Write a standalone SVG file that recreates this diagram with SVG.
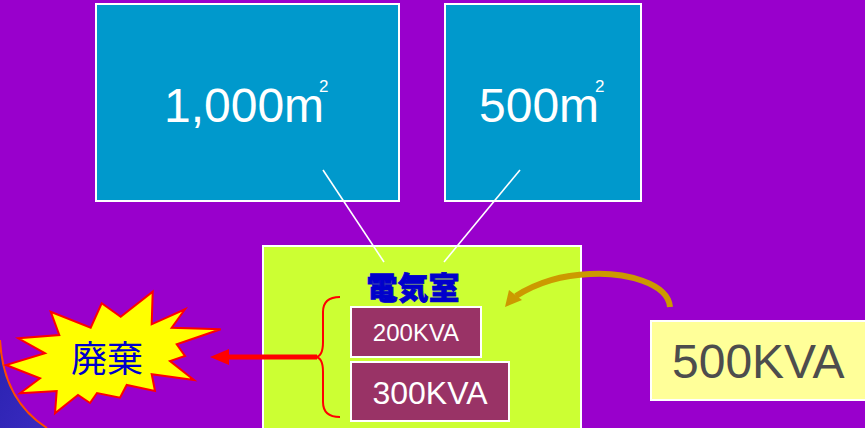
<svg xmlns="http://www.w3.org/2000/svg" width="865" height="428" viewBox="0 0 865 428">
<defs>
<style>
.area{fill:#0099CC;stroke:#FFFFFF;stroke-width:2}
.areatxt{font-family:"Liberation Sans",Arial,sans-serif;font-size:48px;fill:#FFFFFF}
.sup{font-size:17px}
.tr{fill:#993366;stroke:#FFFFFF;stroke-width:2}
.trtxt{font-family:"Liberation Sans",Arial,sans-serif;fill:#FFFFFF;text-anchor:middle}
.cjk{font-family:"Noto Sans CJK JP","Noto Sans CJK SC",sans-serif;text-anchor:middle}
.wire{stroke:#FFFFFF;stroke-width:1.6;fill:none}
</style>
<linearGradient id="corner" x1="0" y1="0" x2="1" y2="1">
<stop offset="0" stop-color="#2A22B0"/>
<stop offset="1" stop-color="#3A2AC0"/>
</linearGradient>
</defs>
<rect x="0" y="0" width="865" height="428" fill="#9900CC"/>
<path d="M0,340 Q3,400 47,428 L0,428 Z" fill="url(#corner)"/>
<path d="M0,340 Q3,400 47,428" fill="none" stroke="#FF4A00" stroke-width="2"/>

<g id="area1000">
<rect class="area" x="96" y="4" width="303" height="197"/>
<text class="areatxt" x="164" y="122">1,000m<tspan class="sup" dx="-5" dy="-30">2</tspan></text>
</g>
<g id="area500">
<rect class="area" x="445" y="4" width="196" height="197"/>
<text class="areatxt" x="479" y="122">500m<tspan class="sup" dx="-4" dy="-30">2</tspan></text>
</g>

<g id="denkishitsu">
<rect x="263" y="246" width="318" height="190" fill="#CCFF33" stroke="#FFFFFF" stroke-width="2"/>
<text class="cjk" x="413" y="299" font-size="31" font-weight="900" fill="#0000CC" stroke="#0000CC" stroke-width="0.8">電気室</text>
</g>
<g id="tr200">
<rect class="tr" x="351" y="307" width="130" height="50"/>
<text class="trtxt" x="416" y="341" font-size="24">200KVA</text>
</g>
<g id="tr300">
<rect class="tr" x="351" y="362" width="158" height="59"/>
<text class="trtxt" x="430" y="404" font-size="32">300KVA</text>
</g>

<g id="new500">
<rect x="651" y="321" width="220" height="79" fill="#FFFF99" stroke="#FFFFFF" stroke-width="2"/>
<text x="672" y="378" font-family="'Liberation Sans',Arial,sans-serif" font-size="48" fill="#4D4D4D">500KVA</text>
</g>

<g id="haiki">
<polygon points="152.7,291.7 151.7,324.3 185,309.3 171.7,327.7 220.7,329.3 176.7,344.3 185,356 170,361 194,380 151.7,374.3 155,391 126.7,385 120,397.7 97,393 90,403 78,395 55,413.3 56.7,391 20,393.3 40,378.3 6,365 45,353.3 18.3,338.3 59.3,335 50.7,311.7 90.7,327.7 101.7,303.3 120.7,316.7" fill="#FFFF00" stroke="#FF0000" stroke-width="2" stroke-linejoin="miter"/>
<text class="cjk" x="107" y="372" font-size="36" fill="#0000CC">廃棄</text>
</g>

<g id="connectors">
<line class="wire" x1="323" y1="170" x2="384" y2="262"/>
<line class="wire" x1="520" y1="170" x2="444" y2="262"/>
<path d="M340,297 Q323,297 323,312 L323,342 Q323,357 315,357 Q323,357 323,372 L323,402 Q323,417 340,417" fill="none" stroke="#FF0000" stroke-width="2"/>
<line x1="317" y1="357" x2="226" y2="357" stroke="#FF0000" stroke-width="5"/>
<polygon points="210,357 229,349 229,365" fill="#FF0000"/>
<path d="M670,307 C668,283 625,272 590,274 C562,275 538,282 516,296" fill="none" stroke="#CC9900" stroke-width="6"/>
<polygon points="505,307 509,290 522,300" fill="#CC9900"/>
</g>
</svg>
